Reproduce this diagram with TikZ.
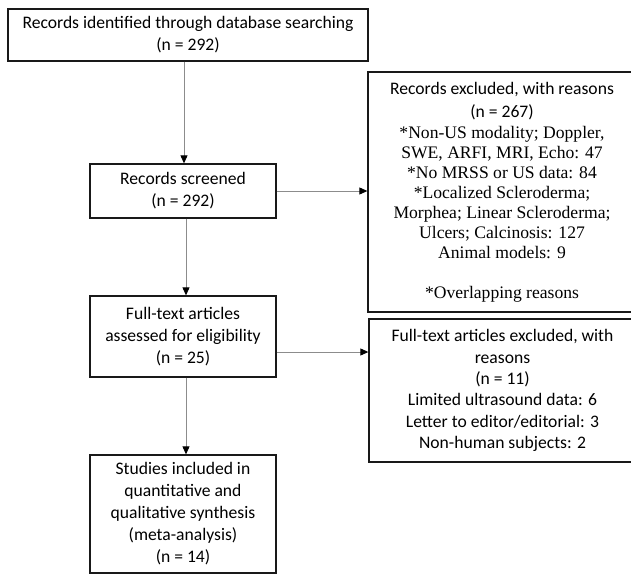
\documentclass[tikz,border=0pt]{standalone}
\usepackage{fontspec}
\setmainfont{Carlito}
\newfontfamily\tms{Liberation Serif}
\usetikzlibrary{arrows.meta}
\begin{document}
\begin{tikzpicture}[x=1pt,y=-1pt,
  box/.style={draw=black!90,line width=1.3pt,align=center,inner sep=0pt,font=\fontsize{17.6}{22}\selectfont},
  arr/.style={draw=black!45,line width=0.9pt,-{Triangle[length=8pt,width=7pt,color=black]}}]
\useasboundingbox (0,0) rectangle (631,574);
\fill[white] (0,0) rectangle (631,574);
\clip (0,0) rectangle (631,574);
\node[box,minimum width=360pt,minimum height=52pt] (id) at (188,35)
  {Records identified through database searching\\(n = 292)};
\node[box,minimum width=186pt,minimum height=54pt] (scr) at (183,191)
  {Records screened\\(n = 292)};
\node[box,minimum width=186pt,minimum height=81pt] (ft) at (183,336.5)
  {Full-text articles\\assessed for eligibility\\(n = 25)};
\node[box,minimum width=186pt,minimum height=118pt] (st) at (183,514)
  {Studies included in\\quantitative and\\qualitative synthesis\\(meta-analysis)\\(n = 14)};
\node[box,minimum width=268pt,minimum height=240pt,font=\fontsize{17.6}{20}\selectfont] (ex1) at (502,192)
  {Records excluded, with reasons\\[3pt](n = 267)\\[1pt]
   \tms *Non-US modality; Doppler,\\
   \tms SWE, ARFI, MRI, Echo: 47\\
   \tms *No MRSS or US data: 84\\
   \tms *Localized Scleroderma;\\
   \tms Morphea; Linear Scleroderma;\\
   \tms Ulcers; Calcinosis: 127\\
   \tms Animal models: 9\\[20pt]
   \tms *Overlapping reasons};
\node[box,minimum width=267pt,minimum height=143pt,font=\fontsize{17.6}{21.4}\selectfont] (ex2) at (502.5,390.5)
  {Full-text articles excluded, with\\reasons\\(n = 11)\\Limited ultrasound data: 6\\Letter to editor/editorial: 3\\Non-human subjects: 2};
\draw[arr] ([xshift=1pt]id.south -| scr.north) -- ([xshift=1pt]scr.north);
\draw[arr] ([xshift=3pt]scr.south) -- ([xshift=3pt]ft.north);
\draw[arr] ([xshift=3pt]ft.south) -- ([xshift=3pt]st.north);
\draw[arr] (scr.east) -- (scr.east -| ex1.west);
\draw[arr] ([yshift=-15.5pt]ft.east) -- ([yshift=-15.5pt]ft.east -| ex2.west);
\end{tikzpicture}
\end{document}
